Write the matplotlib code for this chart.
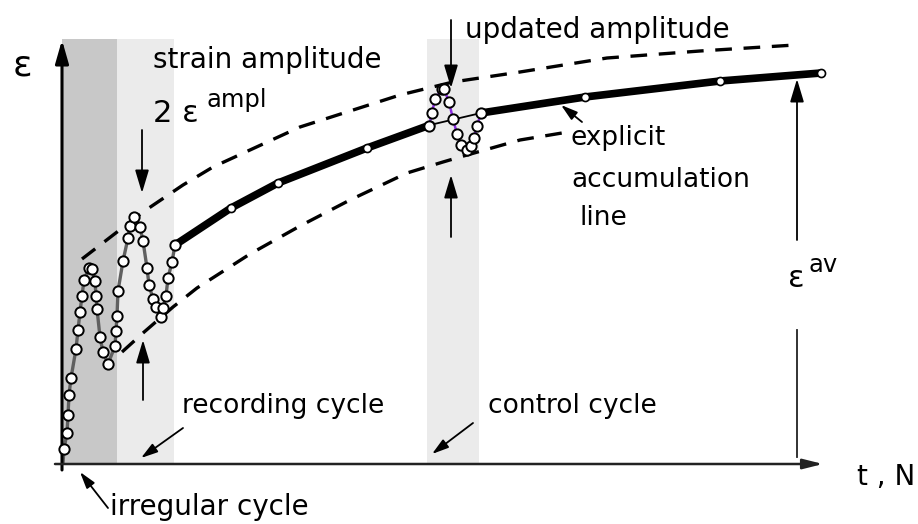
import matplotlib
matplotlib.use("Agg")
import matplotlib.pyplot as plt

plt.rcParams['font.family'] = ['DejaVu Sans']

# ---- data (t = time/cycles, eps = strain), schematic units ----
osc_t = [1, 2, 5, 6, 7, 9, 14, 16, 18, 20, 22, 27, 30, 33, 34, 35, 38, 41, 46,
         53, 54, 55, 56, 61, 66, 68, 72, 78, 81, 85, 87, 91, 94, 99, 101, 104,
         106, 110, 113]
osc_eps = [1, 15, 31, 49, 69, 86, 115, 134, 152, 168, 184, 196, 195, 183, 168,
           155, 127, 112, 100, 118, 133, 148, 173, 203, 226, 238, 247, 237, 223,
           196, 179, 165, 157, 147, 156, 168, 186, 202, 219]

acc1_t = [113, 169, 216, 305, 368]
acc1_eps = [219, 256, 281, 316, 339]
acc2_t = [419, 523, 658, 759]
acc2_eps = [351, 367, 383, 391]

ctrl_t = [367, 370, 373, 380, 382, 387, 391, 395, 399, 405, 409, 412, 415, 419]
ctrl_eps = [338, 351, 365, 375, 375, 362, 345, 330, 319, 314, 318, 326, 338, 351]

upper_t = [20, 81, 121, 151, 238, 338, 391, 458, 545, 638, 733]
upper_eps = [205, 252, 279, 297, 337, 369, 382, 392, 406, 413, 419]

lower_t = [60, 81, 111, 135, 188, 238, 288, 345, 381, 398, 458, 500]
lower_eps = [112, 131, 157, 176, 210, 238, 264, 291, 302, 307, 324, 331]

irregular_band = (0, 55)
recording_band = (55, 112)
control_band = (365, 417)
band_top = 425

fig = plt.figure(figsize=(9.18, 5.24), dpi=100)
ax = fig.add_axes([0, 0, 1, 1])
ax.set_xlim(-62, 856)
ax.set_ylim(-60, 464)
ax.axis('off')

# bands
ax.fill_between(irregular_band, 0, band_top, color='#c8c8c8', lw=0, zorder=0)
ax.fill_between(recording_band, 0, band_top, color='#ebebeb', lw=0, zorder=0)
ax.fill_between(control_band, 0, band_top, color='#ebebeb', lw=0, zorder=0)

# axes arrows
ax.annotate('', xy=(0, 424), xytext=(0, -6),
            arrowprops=dict(arrowstyle='-|>,head_length=1.4,head_width=0.4',
                            mutation_scale=10, lw=2.2, color='black',
                            shrinkA=0, shrinkB=0), zorder=5)
ax.annotate('', xy=(761, 0), xytext=(-7, 0),
            arrowprops=dict(arrowstyle='-|>,head_length=1.2,head_width=0.3',
                            mutation_scale=10, lw=1.8, color='#222222',
                            shrinkA=0, shrinkB=0), zorder=5)

# dashed envelopes
ax.plot(upper_t, upper_eps, color='black', lw=2.4, dashes=(5, 3.5), zorder=2)
ax.plot(lower_t, lower_eps, color='black', lw=2.4, dashes=(5, 3.5), zorder=2)

# oscillating recorded cycles
ax.plot(osc_t, osc_eps, color='#606060', lw=2.4, zorder=3)
ax.plot(osc_t[1:], osc_eps[1:], ls='none', marker='o', ms=7.4, mfc='white',
        mec='black', mew=1.4, zorder=6)

# explicit accumulation line
ax.plot(acc1_t, acc1_eps, color='black', lw=5.5, solid_capstyle='butt', zorder=3)
ax.plot(acc2_t, acc2_eps, color='black', lw=5.5, solid_capstyle='butt', zorder=3)
ax.plot([acc1_t[-1], acc2_t[0]], [acc1_eps[-1], acc2_eps[0]], color='black',
        lw=1.3, zorder=3)
ax.plot(acc1_t[1:] + acc2_t, acc1_eps[1:] + acc2_eps, ls='none', marker='o',
        ms=5.8, mfc='white', mec='black', mew=1.2, zorder=6)

# control cycle
ax.plot(ctrl_t, ctrl_eps, color='#8a2be2', lw=1.8, zorder=4)
ax.plot(ctrl_t, ctrl_eps, ls='none', marker='o', ms=7.4, mfc='white',
        mec='black', mew=1.4, zorder=6)

# vertical arrows
big = dict(arrowstyle='-|>,head_length=1.4,head_width=0.42', mutation_scale=10,
           lw=1.3, color='black', shrinkA=0, shrinkB=0)
ax.annotate('', xy=(80, 271), xytext=(80, 334), arrowprops=big, zorder=5)
ax.annotate('', xy=(81, 124), xytext=(81, 64), arrowprops=big, zorder=5)
ax.annotate('', xy=(389, 376), xytext=(389, 444), arrowprops=big, zorder=5)
ax.annotate('', xy=(389, 289), xytext=(389, 227), arrowprops=big, zorder=5)
ax.plot([735, 735], [7, 134], color='#222222', lw=1.3, zorder=5)
ax.annotate('', xy=(735, 385), xytext=(735, 224), arrowprops=big, zorder=5)

# pointer arrows
small = dict(arrowstyle='-|>,head_length=1.0,head_width=0.3', mutation_scale=10,
             lw=1.3, color='black', shrinkA=0, shrinkB=0)
ax.annotate('', xy=(499, 359), xytext=(520, 342), arrowprops=small, zorder=5)
ax.annotate('', xy=(79, 6), xytext=(121, 36), arrowprops=small, zorder=5)
ax.annotate('', xy=(370, 10), xytext=(411, 41), arrowprops=small, zorder=5)
ax.annotate('', xy=(18, -8), xytext=(46, -44), arrowprops=small, zorder=5)

# texts
fs = 20
ax.text(-49, 389, 'ε', fontsize=26, va='baseline', ha='left')
ax.text(91, 396, 'strain amplitude', fontsize=fs, va='baseline', ha='left')
ax.text(91, 342, '2 ε', fontsize=fs + 2, va='baseline', ha='left')
ax.text(144, 357, 'ampl', fontsize=17.5, va='baseline', ha='left')
ax.text(403, 426, 'updated amplitude', fontsize=fs, va='baseline', ha='left')
ax.text(509, 319, 'explicit', fontsize=19, va='baseline', ha='left')
ax.text(509, 277, 'accumulation', fontsize=19, va='baseline', ha='left')
ax.text(518, 239, 'line', fontsize=19, va='baseline', ha='left')
ax.text(726, 177, 'ε', fontsize=fs + 2, va='baseline', ha='left')
ax.text(746, 192, 'av', fontsize=17.5, va='baseline', ha='left')
ax.text(120, 51, 'recording cycle', fontsize=19, va='baseline', ha='left')
ax.text(426, 51, 'control cycle', fontsize=19, va='baseline', ha='left')
ax.text(48, -51, 'irregular cycle', fontsize=fs, va='baseline', ha='left')
ax.text(795, -21, 't , N', fontsize=fs, va='baseline', ha='left')

fig.savefig('out.png', dpi=100)
